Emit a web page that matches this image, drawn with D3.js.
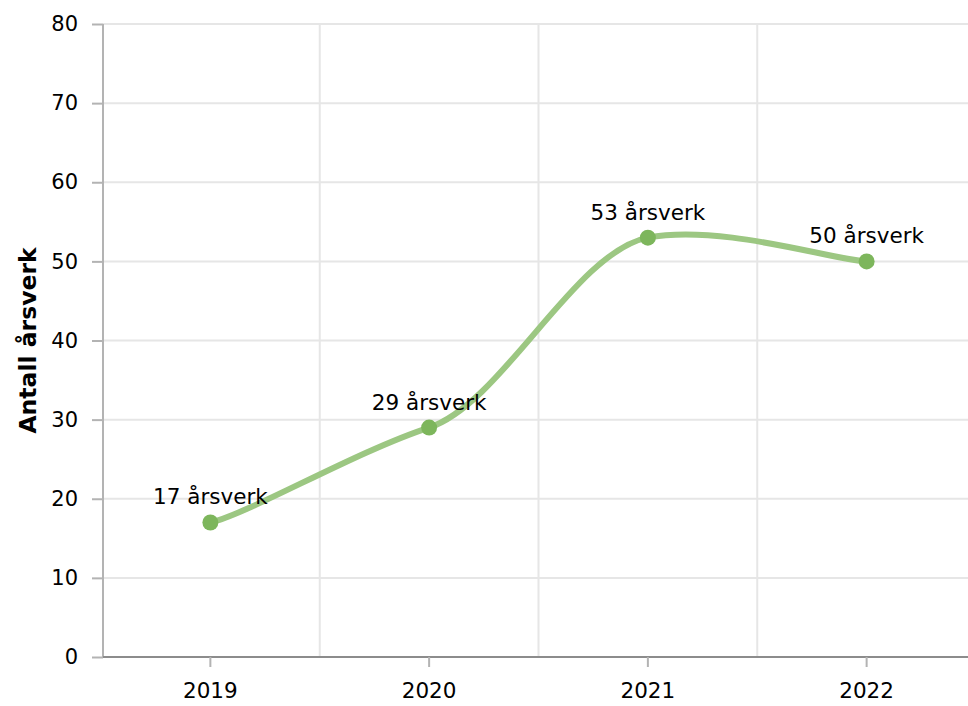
<!DOCTYPE html>
<html>
<head>
<meta charset="utf-8">
<script src="https://cdn.jsdelivr.net/npm/d3@7"></script>
<style>
  html, body { margin: 0; padding: 0; background: #fff; }
  svg { display: block; font-family: "DejaVu Sans", Verdana, sans-serif; }
</style>
</head>
<body>
<svg id="chart" width="968" height="706"></svg>
<script>
const categories = ["2019", "2020", "2021", "2022"];
const values = [17, 29, 53, 50];
const labelSuffix = " årsverk";
const yTicks = [0, 10, 20, 30, 40, 50, 60, 70, 80];
const yTitle = "Antall årsverk";

const svg = d3.select("#chart");
const plot = { left: 103, right: 968, top: 24, bottom: 657 };

const x = d3.scaleBand().domain(categories).range([101, 976]).padding(0);
const y = d3.scaleLinear().domain([0, 80]).range([plot.bottom, plot.top]);
const cx = d => x(d) + x.bandwidth() / 2;

// horizontal gridlines
svg.append("g").selectAll("line").data(yTicks).join("line")
  .attr("x1", plot.left).attr("x2", plot.right)
  .attr("y1", d => y(d)).attr("y2", d => y(d))
  .attr("stroke", "#e6e6e6").attr("stroke-width", 2);

// vertical gridlines at band boundaries
svg.append("g").selectAll("line").data(categories.slice(1)).join("line")
  .attr("x1", d => x(d)).attr("x2", d => x(d))
  .attr("y1", plot.top).attr("y2", plot.bottom)
  .attr("stroke", "#e6e6e6").attr("stroke-width", 2);

// y axis
const yAxis = d3.axisLeft(y).tickValues(yTicks).tickSize(11).tickPadding(14);
const gy = svg.append("g").attr("transform", `translate(${plot.left},0)`).call(yAxis);
gy.select(".domain").attr("stroke", "#b3b3b3").attr("stroke-width", 2).attr("d", `M0,${plot.top}V${plot.bottom}`);
gy.selectAll(".tick line").attr("stroke", "#b3b3b3").attr("stroke-width", 2);
gy.selectAll(".tick text").attr("fill", "#000").style("font-size", "21px")
  .style("font-family", "'DejaVu Sans', Verdana, sans-serif");

// x axis
const xAxis = d3.axisBottom(x).tickSize(10).tickPadding(16);
const gx = svg.append("g").attr("transform", `translate(0,${plot.bottom})`).call(xAxis);
gx.select(".domain").attr("stroke", "#8c8c8c").attr("stroke-width", 2).attr("d", `M${plot.left},0H${plot.right}`);
gx.selectAll(".tick line").attr("stroke", "#b3b3b3").attr("stroke-width", 2);
gx.selectAll(".tick text").attr("fill", "#000").style("font-size", "21.5px")
  .style("font-family", "'DejaVu Sans', Verdana, sans-serif");

// y title
svg.append("text")
  .attr("transform", `translate(36,${(plot.top + plot.bottom) / 2}) rotate(-90)`)
  .attr("text-anchor", "middle")
  .style("font-size", "23.5px").style("font-weight", "bold")
  .text(yTitle);

// custom tension curve: separate horizontal and vertical smoothing
function tensionCurve(kx, ky) {
  return function(context) {
    let pts = [];
    return {
      lineStart() { pts = []; },
      lineEnd() {
        const n = pts.length;
        if (!n) return;
        context.moveTo(pts[0][0], pts[0][1]);
        for (let i = 0; i < n - 1; i++) {
          const p0 = pts[Math.max(i - 1, 0)], p1 = pts[i], p2 = pts[i + 1], p3 = pts[Math.min(i + 2, n - 1)];
          context.bezierCurveTo(
            p1[0] + (p2[0] - p0[0]) / 6 * kx, p1[1] + (p2[1] - p0[1]) / 6 * ky,
            p2[0] - (p3[0] - p1[0]) / 6 * kx, p2[1] - (p3[1] - p1[1]) / 6 * ky,
            p2[0], p2[1]);
        }
      },
      areaStart() {}, areaEnd() {},
      point(px, py) { pts.push([+px, +py]); }
    };
  };
}

// line
const pts = categories.map((c, i) => [cx(c), y(values[i])]);
const line = d3.line().curve(tensionCurve(1, 0.5));
svg.append("path").attr("d", line(pts))
  .attr("fill", "none").attr("stroke", "#9cc782").attr("stroke-width", 6)
  .attr("stroke-linecap", "round");

// points
svg.append("g").selectAll("circle").data(pts).join("circle")
  .attr("cx", d => d[0]).attr("cy", d => d[1]).attr("r", 8)
  .attr("fill", "#7db65c");

// data labels
svg.append("g").selectAll("text").data(categories).join("text")
  .attr("x", c => cx(c)).attr("y", (c, i) => y(values[i]) - 18)
  .attr("text-anchor", "middle")
  .style("font-size", "21.5px").attr("fill", "#000")
  .text((c, i) => values[i] + labelSuffix);
</script>
</body>
</html>
